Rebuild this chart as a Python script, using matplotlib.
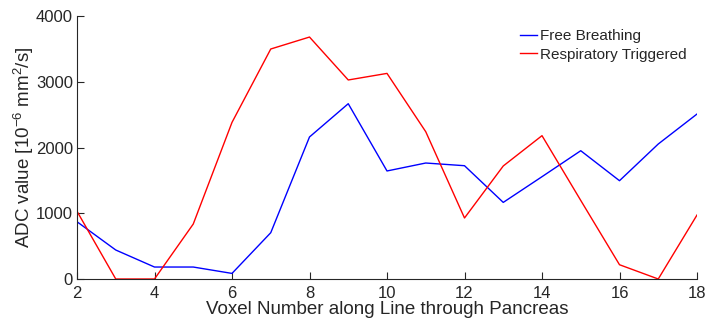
import matplotlib
matplotlib.use('Agg')
import matplotlib.pyplot as plt
import numpy as np

voxel = np.arange(2, 19)
free_breathing = [871, 441, 182, 182, 85, 704, 2160, 2666, 1643,
                  1764, 1723, 1165, 1556, 1951, 1495, 2053, 2509]
resp_triggered = [1030, 0, 0, 836, 2382, 3498, 3680, 3027, 3127,
                  2240, 928, 1719, 2180, 1195, 217, 0, 973]

x_ticks = [2, 4, 6, 8, 10, 12, 14, 16, 18]
y_ticks = [0, 1000, 2000, 3000, 4000]


def main():
    plt.rcParams['font.family'] = ['Liberation Sans', 'DejaVu Sans']
    plt.rcParams['mathtext.fontset'] = 'custom'
    plt.rcParams['mathtext.rm'] = 'Liberation Sans'
    plt.rcParams['mathtext.it'] = 'Liberation Sans'
    fig = plt.figure(figsize=(7.08, 3.32), dpi=100)
    ax = fig.add_axes([77 / 708, 1 - 279 / 332, 620 / 708, 263 / 332])

    ax.plot(voxel, free_breathing, color='#0000ff', lw=1.0, label='Free Breathing')
    ax.plot(voxel, resp_triggered, color='#ff0000', lw=1.0, label='Respiratory Triggered')

    ax.set_xlim(2, 18)
    ax.set_ylim(0, 4000)
    ax.set_xticks(x_ticks)
    ax.set_yticks(y_ticks)
    ax.tick_params(direction='in', length=5, width=0.8, colors='#262626',
                   labelsize=12)
    ax.tick_params(axis='x', pad=5)
    ax.tick_params(axis='y', pad=3)
    for side in ['top', 'right']:
        ax.spines[side].set_visible(False)
    for side in ['left', 'bottom']:
        ax.spines[side].set_color('#262626')
        ax.spines[side].set_linewidth(0.8)

    ax.set_xlabel('Voxel Number along Line through Pancreas', fontsize=13.5,
                  color='#262626', labelpad=0)
    ax.set_ylabel(r'ADC value [10$^{-6}$ mm$^2$/s]', fontsize=13.5,
                  color='#262626', labelpad=0)

    leg = ax.legend(loc='upper left', bbox_to_anchor=(0.714, 0.95),
                    frameon=False, fontsize=11, handlelength=1.15,
                    handletextpad=0.15, borderaxespad=0, borderpad=0,
                    labelspacing=0.3)
    for t in leg.get_texts():
        t.set_color('#262626')

    fig.savefig('out.png', dpi=100)


if __name__ == '__main__':
    main()
